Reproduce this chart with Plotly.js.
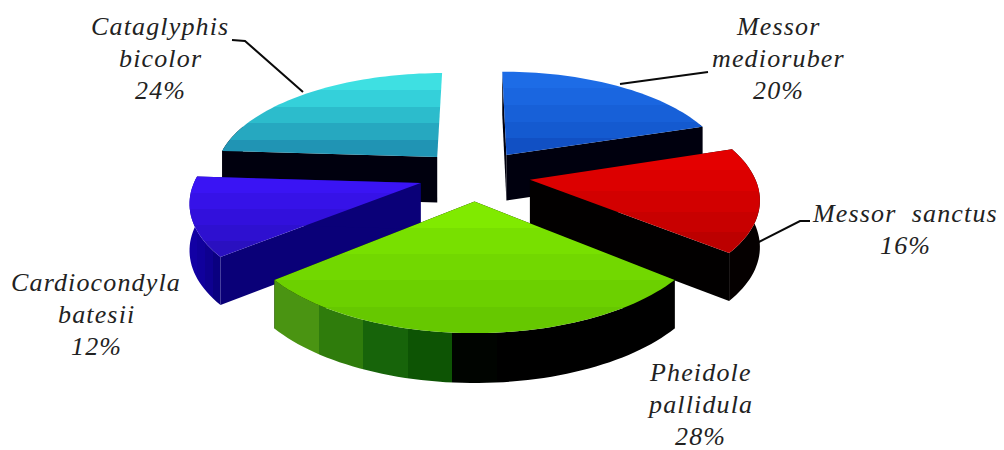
<!DOCTYPE html>
<html>
<head>
<meta charset="utf-8">
<script src="https://cdn.plot.ly/plotly-3.0.1.min.js"></script>
<style>html,body{margin:0;padding:0;background:#fff}#chart{width:1004px;height:450px}.annotation-text{letter-spacing:1.15px}</style>
</head>
<body>
<div id="chart"></div>
<script>
// Ant species shares, clockwise from twelve o'clock
const species = ["Messor medioruber", "Messor sanctus", "Pheidole pallidula", "Cardiocondyla batesii", "Cataglyphis bicolor"];
const shares = [20, 16, 28, 12, 24];

// Label text, split the way it wraps on the page
const labelLines = [
  ["Messor", "medioruber"],
  ["Messor\u00a0\u00a0sanctus"],
  ["Pheidole", "pallidula"],
  ["Cardiocondyla", "batesii"],
  ["Cataglyphis", "bicolor"]
];
const labelAnchors = [[778, 58], [905, 229], [700, 404], [96, 314], [160, 58]];
const labelPitch = 32;
const leaders = [
  [[620, 84], [708, 72]],
  [[753, 245], [800, 221], [810, 221]],
  null,
  null,
  [[303, 92], [245, 41], [232, 40]]
];

// Top-face banding (far edge first) and wall colours for each slice
const topBands = [
  ["#1d6ce6", "#1a66e0", "#1760d8", "#145ad0", "#1150c4"],
  ["#e40000", "#dc0000", "#d20000", "#c80000", "#bc0000"],
  ["#80ea00", "#78e000", "#72d800", "#6cd000", "#66c800"],
  ["#3a14f4", "#3612e8", "#3210dc", "#2e10d0", "#2a10c0"],
  ["#3ee0e2", "#34d0da", "#2cbccc", "#26a8c0", "#2094b4"]
];
const cutWallColours = ["#00000e", "#020000", "#050500", "#0a0078", "#00000e"];
const rimColours = [
  ["#00000e"],
  ["#050000"],
  ["#4a9412", "#2f7c0c", "#17640a", "#0d5404", "#000400", "#000000", "#000000", "#000000", "#000000"],
  ["#1200a4", "#10009c", "#0e0090", "#0a0080"],
  ["#00000e"]
];
// Cut faces left out: [slice index, 0 = leading edge, 1 = trailing edge]
const omittedCuts = [[4, 1]];

// Projection of the tilted pie
const view = {cx: 474.5, cy: 175, sx: 224, sy: 102, persp: 0.155, lift: 46, liftPersp: 0.35, burst: 0.25};

function project(wx, wy, wz) {
  const s = 1 / (1 - view.persp * wy);
  return [view.cx + view.sx * wx * s,
          view.cy + view.sy * wy * s + view.lift * wz * (1 + view.liftPersp * (s - 1))];
}

const total = shares.reduce((a, b) => a + b, 0);
let running = 0;
const slices = shares.map((v, i) => {
  const a0 = running / total * 2 * Math.PI;
  running += v;
  const a1 = running / total * 2 * Math.PI;
  const mid = (a0 + a1) / 2;
  return {i, a0, a1, ox: view.burst * Math.sin(mid), oy: -view.burst * Math.cos(mid)};
});

function rimPoint(sl, a, z) {
  return project(sl.ox + Math.sin(a), sl.oy - Math.cos(a), z);
}
function arcAngles(sl) {
  const n = Math.max(8, Math.round((sl.a1 - sl.a0) / 0.03));
  return Array.from({length: n + 1}, (_, k) => sl.a0 + (sl.a1 - sl.a0) * k / n);
}
function polygon(points, extra) {
  return Object.assign({
    type: "scatter", mode: "none", fill: "toself", hoverinfo: "skip", showlegend: false,
    x: points.map(p => p[0]), y: points.map(p => p[1])
  }, extra);
}
function steppedScale(colours) {
  const out = [];
  colours.forEach((c, k) => {
    out.push([k / colours.length, c], [(k + 1) / colours.length, c]);
  });
  return out;
}

function sliceTraces(sl) {
  const traces = [];
  const apexTop = project(sl.ox, sl.oy, 0);
  const apexBase = project(sl.ox, sl.oy, 1);
  const wall = cutWallColours[sl.i];
  // the two cut faces
  [sl.a0, sl.a1].forEach((a, edge) => {
    if (omittedCuts.some(c => c[0] === sl.i && c[1] === edge)) return;
    traces.push(polygon([apexTop, rimPoint(sl, a, 0), rimPoint(sl, a, 1), apexBase], {fillcolor: wall}));
  });
  // outer curved wall, front-facing part only
  const angles = arcAngles(sl).filter(a => Math.cos(a) < 0.35);
  if (angles.length > 1) {
    const upper = angles.map(a => rimPoint(sl, a, 0));
    const lower = angles.map(a => rimPoint(sl, a, 1)).reverse();
    const pts = upper.concat(lower);
    const xs = pts.map(p => p[0]);
    traces.push(polygon(pts, {
      fillcolor: rimColours[sl.i][0],
      fillgradient: {type: "horizontal", start: Math.min(...xs), stop: Math.max(...xs), colorscale: steppedScale(rimColours[sl.i])}
    }));
  }
  // top face
  const top = [apexTop].concat(arcAngles(sl).map(a => rimPoint(sl, a, 0)));
  const ys = top.map(p => p[1]);
  traces.push(polygon(top, {
    fillcolor: topBands[sl.i][0],
    fillgradient: {type: "vertical", start: Math.min(...ys), stop: Math.max(...ys), colorscale: steppedScale(topBands[sl.i])}
  }));
  return traces;
}

// Paint far slices first so the nearer ones overlap them
const paintOrder = [4, 0, 3, 1, 2];
const data = [];
leaders.forEach(path => {
  if (!path) return;
  data.push({
    type: "scatter", mode: "lines", hoverinfo: "skip", showlegend: false,
    x: path.map(p => p[0]), y: path.map(p => p[1]),
    line: {color: "#0a0a0a", width: 2}
  });
});
paintOrder.forEach(i => data.push(...sliceTraces(slices[i])));

// One annotation per line of label text, so the line pitch stays exact
const annotations = [];
species.forEach((name, i) => {
  const lines = labelLines[i].concat(shares[i] + "%");
  lines.forEach((line, k) => {
    annotations.push({
      x: labelAnchors[i][0], y: labelAnchors[i][1] + (k - (lines.length - 1) / 2) * labelPitch,
      xref: "x", yref: "y", showarrow: false, xanchor: "center", yanchor: "middle",
      text: "<i>" + line + "</i>",
      font: {family: "Liberation Serif, serif", size: 26, color: "#222222"}
    });
  });
});

const hiddenAxis = {visible: false, showgrid: false, zeroline: false, fixedrange: true};
Plotly.newPlot("chart", data, {
  width: 1004, height: 450,
  margin: {l: 0, r: 0, t: 0, b: 0},
  paper_bgcolor: "#ffffff", plot_bgcolor: "#ffffff",
  xaxis: Object.assign({range: [0, 1004]}, hiddenAxis),
  yaxis: Object.assign({range: [450, 0]}, hiddenAxis),
  annotations
}, {displayModeBar: false, staticPlot: true});
</script>
</body>
</html>
